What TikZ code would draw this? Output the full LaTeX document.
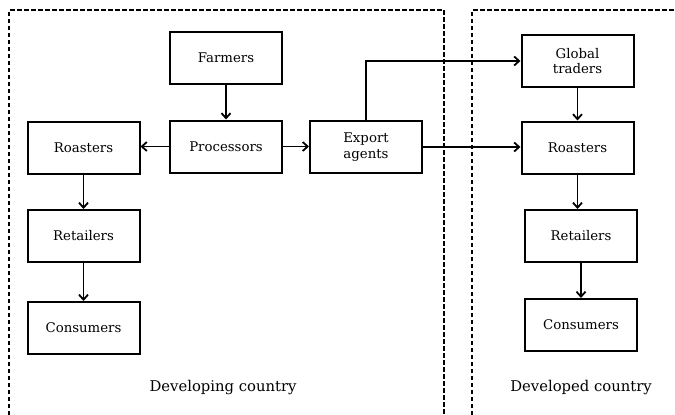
\documentclass[tikz,border=0pt]{standalone}
\usepackage{fontspec}
\setmainfont{DejaVu Serif}
\usepackage{tikz}
\usetikzlibrary{arrows.meta,positioning}
\tikzset{
  box/.style={draw, line width=2pt, minimum width=112pt, minimum height=52pt, align=center, inner sep=2pt, font=\fontsize{13.3}{15.5}\selectfont},
  region/.style={line width=1.5pt, dash pattern=on 4.5pt off 2.5pt},
  flow/.style={-{Straight Barb[length=5pt,width=9pt]}, line width=1.8pt},
  country/.style={font=\fontsize{14.8}{17}\selectfont},
}
\begin{document}
\begin{tikzpicture}[x=1pt,y=-1pt]
  \useasboundingbox (0,0) rectangle (675,415);

  % Country regions (open at the bottom)
  \draw[region] (9,415) -- (9,10) -- (444,10) -- (444,415);
  \draw[region] (472,415) -- (472,10) -- (675,10);

  % Developing country
  \node[box] (farmers) at (226,57.5) {Farmers};
  \node[box] (proc) at (226,146.5) {Processors};
  \node[box] (lroast) at (83.5,147.5) {Roasters};
  \node[box] (lretail) at (83.5,236) {Retailers};
  \node[box] (lcons) at (83.5,328) {Consumers};
  \node[box] (export) at (366,147) {Export\\agents};

  % Developed country
  \node[box] (gtraders) at (577.5,61) {Global\\traders};
  \node[box] (rroast) at (577.5,147.5) {Roasters};
  \node[box] (rretail) at (581,236) {Retailers};
  \node[box] (rcons) at (581,325) {Consumers};

  % Flows
  \draw[flow] (farmers) -- (proc);
  \draw[flow] (proc.west) -- (proc.west -| lroast.east);
  \draw[flow] (proc.east) -- (proc.east -| export.west);
  \draw[flow] (lroast) -- (lretail);
  \draw[flow] (lretail) -- (lcons);
  \draw[flow] (export.north) |- (gtraders.west);
  \draw[flow] (export.east) -- (export.east -| rroast.west);
  \draw[flow] (gtraders) -- (rroast);
  \draw[flow] (rroast.south) -- (rroast.south |- rretail.north);
  \draw[flow] (rretail) -- (rcons);

  % Region labels
  \node[country] (devg) at (223,388) {Developing country};
  \node[country] (devd) at (581,388) {Developed country};
\end{tikzpicture}
\end{document}
